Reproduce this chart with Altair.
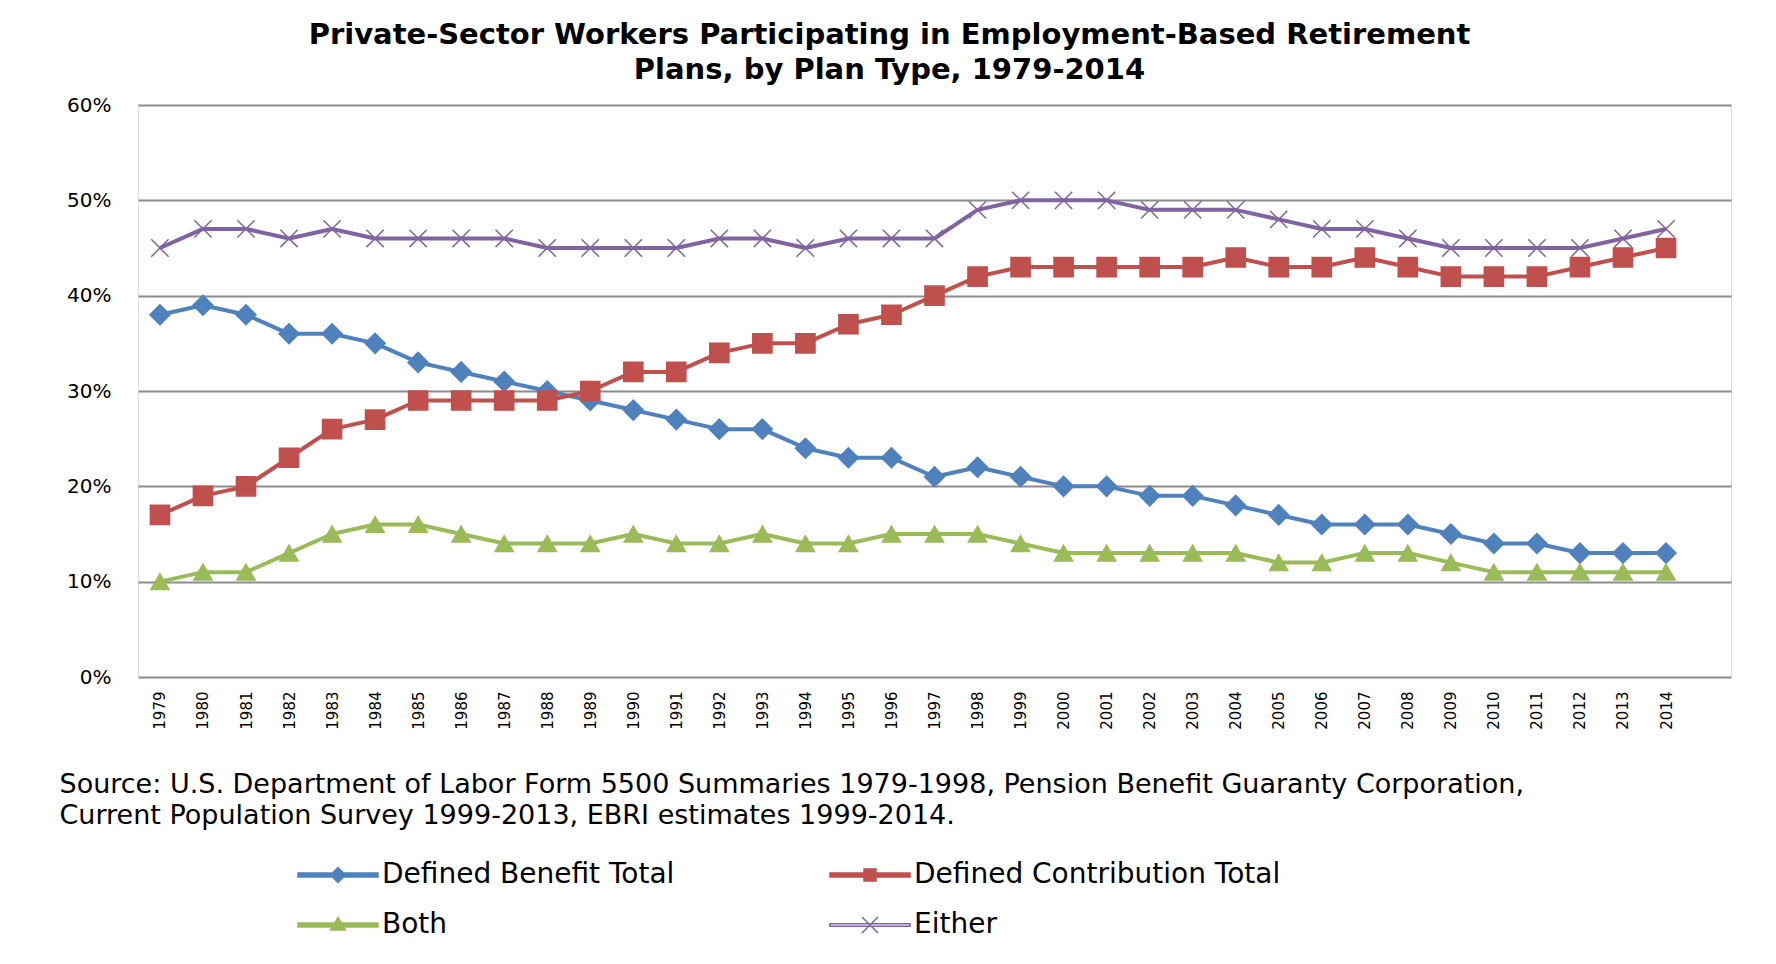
import altair as alt
import pandas as pd

years = list(range(1979, 2015))
series_names = ["Defined Benefit Total", "Defined Contribution Total", "Both", "Either"]
db = [38, 39, 38, 36, 36, 35, 33, 32, 31, 30, 29, 28, 27, 26, 26, 24, 23, 23, 21, 22,
      21, 20, 20, 19, 19, 18, 17, 16, 16, 16, 15, 14, 14, 13, 13, 13]
dc = [17, 19, 20, 23, 26, 27, 29, 29, 29, 29, 30, 32, 32, 34, 35, 35, 37, 38, 40, 42,
      43, 43, 43, 43, 43, 44, 43, 43, 44, 43, 42, 42, 42, 43, 44, 45]
both = [10, 11, 11, 13, 15, 16, 16, 15, 14, 14, 14, 15, 14, 14, 15, 14, 14, 15, 15, 15,
        14, 13, 13, 13, 13, 13, 12, 12, 13, 13, 12, 11, 11, 11, 11, 11]
either = [45, 47, 47, 46, 47, 46, 46, 46, 46, 45, 45, 45, 45, 46, 46, 45, 46, 46, 46, 49,
          50, 50, 50, 49, 49, 49, 48, 47, 47, 46, 45, 45, 45, 45, 46, 47]
colors = ["#4F81BD", "#C0504D", "#9BBB59", "#8064A2"]
fills = ["#4F81BD", "#C0504D", "#9BBB59", "transparent"]
y_ticks = [0, 0.1, 0.2, 0.3, 0.4, 0.5, 0.6]
title_lines = ["Private-Sector Workers Participating in Employment-Based Retirement",
               "Plans, by Plan Type, 1979-2014"]
source_lines = ["Source: U.S. Department of Labor Form 5500 Summaries 1979-1998, Pension Benefit Guaranty Corporation,",
                "Current Population Survey 1999-2013,  EBRI estimates 1999-2014."]

rows = []
for name, vals in zip(series_names, [db, dc, both, either]):
    for yr, v in zip(years, vals):
        rows.append({"year": yr, "series": name, "value": v / 100.0})
df = pd.DataFrame(rows)

marker_shapes = ["diamond", "square", "triangle-up", "M-1,-1L1,1M-1,1L1,-1"]
marker_sizes = [400, 300, 360, 560]
legend_shapes = [
    "M-4,-0.2L4,-0.2L4,0.2L-4,0.2Z M0,-0.75L0.75,0L0,0.75L-0.75,0Z",
    "M-4,-0.2L4,-0.2L4,0.2L-4,0.2Z M-0.6,-0.6L0.6,-0.6L0.6,0.6L-0.6,0.6Z",
    "M-4,-0.2L4,-0.2L4,0.2L-4,0.2Z M0,-0.75L0.75,0.5L-0.75,0.5Z",
    "M-4,-0.12L4,-0.12L4,0.12L-4,0.12Z M-0.8,-0.8L0.8,0.8M-0.8,0.8L0.8,-0.8",
]

FONT = "DejaVu Sans"

x_enc = alt.X(
    "year:Q",
    scale=alt.Scale(domain=[1978.49, 2015.51], nice=False, zero=False),
    axis=alt.Axis(
        values=years, format="d", labelAngle=270, labelFontSize=15, labelFont=FONT,
        labelColor="#000000", labelPadding=14, ticks=False, domain=False, grid=False,
        labelOverlap=False, labelFlush=False,
        title=source_lines, titleX=-79, titleY=94, titleAnchor="start", titleAlign="left",
        titleBaseline="top", titleFontSize=27, titleFont=FONT, titleFontWeight="normal",
        titleLineHeight=31, titleColor="#000000", titleLimit=0,
    ),
)
y_enc = alt.Y(
    "value:Q",
    scale=alt.Scale(domain=[0, 0.6], nice=False),
    axis=alt.Axis(
        values=y_ticks, format=".0%", grid=True, gridColor="#8c8c8c", gridWidth=2,
        domain=False, ticks=False, labelPadding=27, labelFontSize=20, labelFont=FONT,
        labelColor="#000000", title=None,
    ),
)

dom = series_names
lines = alt.Chart(df).mark_line(strokeWidth=4, strokeJoin="round").encode(
    x=x_enc, y=y_enc,
    color=alt.Color("series:N", scale=alt.Scale(domain=dom, range=colors), legend=None),
)

points = alt.Chart(df).mark_point(strokeWidth=1.5, opacity=1).encode(
    x=x_enc, y=y_enc,
    shape=alt.Shape("series:N", scale=alt.Scale(domain=dom, range=marker_shapes), legend=None),
    fill=alt.Fill("series:N", scale=alt.Scale(domain=dom, range=fills), legend=None),
    stroke=alt.Stroke("series:N", scale=alt.Scale(domain=dom, range=colors), legend=None),
    size=alt.Size("series:N", scale=alt.Scale(domain=dom, range=marker_sizes), legend=None),
)

leg = alt.Legend(
    title=None, orient="none", legendX=186, legendY=756, columns=2, direction="horizontal",
    labelFont=FONT, labelFontSize=28, labelColor="#000000", labelOffset=30, labelLimit=0,
    symbolSize=400, symbolStrokeWidth=1.5, rowPadding=22, columnPadding=152,
    symbolOpacity=1,
)
legend_layer = alt.Chart(df).transform_filter("datum.value < -1").mark_point(
    filled=True, strokeWidth=1.5, opacity=1
).encode(
    x=x_enc, y=y_enc,
    shape=alt.Shape("series:N", scale=alt.Scale(domain=dom, range=legend_shapes), legend=leg),
    fill=alt.Fill("series:N", scale=alt.Scale(domain=dom, range=fills), legend=leg),
    stroke=alt.Stroke("series:N", scale=alt.Scale(domain=dom, range=colors), legend=leg),
)

chart = alt.layer(lines, points, legend_layer).resolve_scale(
    shape="independent", fill="independent", stroke="independent"
).properties(
    width=1593, height=572,
    title=alt.TitleParams(
        text=title_lines, anchor="middle", dx=-45, offset=10, fontSize=29,
        font=FONT, fontWeight="bold", lineHeight=35, color="#000000",
    ),
    padding={"left": 130, "top": 97, "right": 30, "bottom": 278},
    autosize=alt.AutoSizeParams(type="none"),
).configure_view(stroke=None).configure(background="white")

chart.save("out.html", embed_options={"renderer": "svg", "actions": False})
